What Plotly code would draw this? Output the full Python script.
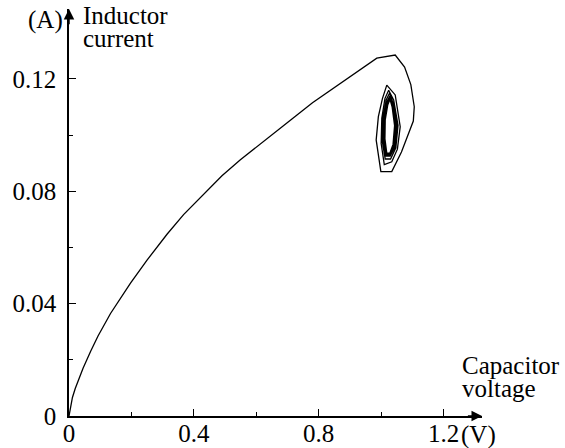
import plotly.graph_objects as go

# capacitor voltage (V) vs inductor current (A)
voltage = [0.0, 0.004, 0.011, 0.020, 0.031, 0.045, 0.069, 0.093, 0.133, 0.17,
           0.197, 0.25, 0.314, 0.367, 0.442, 0.49, 0.549, 0.62, 0.70, 0.78,
           0.869, 0.93, 0.986, 1.045, 1.075, 1.095, 1.106, 1.103, 1.093, 1.065,
           1.034, 0.999, 0.984, 0.991, 1.004, 1.018, 1.045, 1.061, 1.052, 1.034,
           1.010, 1.000, 1.002, 1.012, 1.024,
           1.040, 1.054, 1.047, 1.030, 1.013, 1.004, 1.006, 1.016, 1.027,
           1.038, 1.051, 1.045, 1.029, 1.015, 1.007, 1.009, 1.018, 1.028,
           1.037, 1.047, 1.042, 1.028, 1.016, 1.009, 1.011, 1.019, 1.028,
           1.036, 1.045, 1.040, 1.028, 1.017, 1.011, 1.012, 1.020, 1.028,
           1.035, 1.044, 1.039, 1.028, 1.017, 1.012, 1.013, 1.020, 1.028,
           1.035, 1.043, 1.038, 1.028, 1.018, 1.012, 1.013, 1.021, 1.028]
current = [0.0, 0.0030, 0.0066, 0.0098, 0.0132, 0.0170, 0.0230, 0.0285, 0.0365, 0.0428,
           0.0473, 0.0555, 0.0647, 0.0717, 0.0803, 0.0855, 0.0912, 0.0976, 0.1045, 0.1115,
           0.1185, 0.1232, 0.1274, 0.1285, 0.1242, 0.1180, 0.1101, 0.1050, 0.1019, 0.0940,
           0.0870, 0.0870, 0.0983, 0.1066, 0.1130, 0.1178, 0.1143, 0.1030, 0.0950, 0.0905,
           0.0895, 0.0970, 0.1060, 0.1130, 0.1160,
           0.1125, 0.1035, 0.0955, 0.0915, 0.0915, 0.0975, 0.1060, 0.1125, 0.1150,
           0.1115, 0.1035, 0.0960, 0.0925, 0.0925, 0.0980, 0.1058, 0.1118, 0.1140,
           0.1108, 0.1035, 0.0963, 0.0930, 0.0930, 0.0983, 0.1056, 0.1113, 0.1134,
           0.1104, 0.1034, 0.0965, 0.0933, 0.0933, 0.0985, 0.1055, 0.1110, 0.1130,
           0.1102, 0.1034, 0.0966, 0.0935, 0.0935, 0.0986, 0.1054, 0.1108, 0.1128,
           0.1101, 0.1034, 0.0967, 0.0936, 0.0936, 0.0987, 0.1054, 0.1107, 0.1127]

x_ticks = [0, 0.4, 0.8, 1.2]
x_labels = ["0", "0.4", "0.8", "1.2"]
x_minor = [0.2, 0.6, 1.0]
y_ticks = [0, 0.04, 0.08, 0.12]
y_labels = ["0", "0.04", "0.08", "0.12"]
y_minor = [0.02, 0.06, 0.10]

X_END, Y_END = 1.323, 0.1449
FONT = "Liberation Serif, DejaVu Serif, serif"
TXT = dict(family=FONT, size=25, color="black")

fig = go.Figure()
fig.add_trace(go.Scatter(x=voltage, y=current, mode="lines",
                         line=dict(color="black", width=1.3), hoverinfo="skip"))

# axis arrows
fig.add_annotation(x=X_END, y=0, ax=X_END - 0.05, ay=0, xref="x", yref="y", axref="x", ayref="y",
                   showarrow=True, arrowhead=2, arrowsize=1.4, arrowwidth=1.5, arrowcolor="black", text="")
fig.add_annotation(x=0, y=Y_END, ax=0, ay=Y_END - 0.006, xref="x", yref="y", axref="x", ayref="y",
                   showarrow=True, arrowhead=2, arrowsize=1.4, arrowwidth=1.5, arrowcolor="black", text="")

# axis names and units
fig.add_annotation(x=0, y=Y_END, xref="x", yref="y", text="(A)", showarrow=False,
                   xanchor="right", yanchor="middle", xshift=-4, yshift=-11, font=TXT)
fig.add_annotation(x=0, y=Y_END, xref="x", yref="y", text="Inductor", showarrow=False,
                   xanchor="left", yanchor="middle", xshift=12, yshift=-6, font=TXT)
fig.add_annotation(x=0, y=Y_END, xref="x", yref="y", text="current", showarrow=False,
                   xanchor="left", yanchor="middle", xshift=12, yshift=-29, font=TXT)
fig.add_annotation(x=1.2, y=0, xref="x", yref="y", text="(V)", showarrow=False,
                   xanchor="left", yanchor="middle", xshift=15, yshift=-19, font=TXT)
fig.add_annotation(x=1.2, y=0, xref="x", yref="y", text="Capacitor", showarrow=False,
                   xanchor="left", yanchor="middle", xshift=16, yshift=51, font=TXT)
fig.add_annotation(x=1.2, y=0, xref="x", yref="y", text="voltage", showarrow=False,
                   xanchor="left", yanchor="middle", xshift=16, yshift=28, font=TXT)

fig.update_layout(
    width=565, height=448,
    margin=dict(l=68.5, r=565 - 482, t=9, b=31.5),
    plot_bgcolor="white", paper_bgcolor="white",
    showlegend=False,
    font=TXT,
    xaxis=dict(range=[0, X_END], tickvals=x_ticks, ticktext=x_labels,
               ticks="inside", ticklen=7, tickwidth=1, tickcolor="black",
               minor=dict(ticks="inside", ticklen=4, tickvals=x_minor, tickcolor="black"),
               showline=True, linecolor="black", linewidth=1.5,
               showgrid=False, zeroline=False, automargin=False, ticklabelstandoff=-6),
    yaxis=dict(range=[0, Y_END], tickvals=y_ticks, ticktext=y_labels,
               ticks="inside", ticklen=7, tickwidth=1, tickcolor="black",
               minor=dict(ticks="inside", ticklen=4, tickvals=y_minor, tickcolor="black"),
               showline=True, linecolor="black", linewidth=1.5,
               showgrid=False, zeroline=False, automargin=False, ticklabelstandoff=6),
)

# the page body has a default 8px margin; drop it so the figure sits at the corner
fig.write_html("out.html", config={"displayModeBar": False},
               post_script="document.body.style.margin='0';")
